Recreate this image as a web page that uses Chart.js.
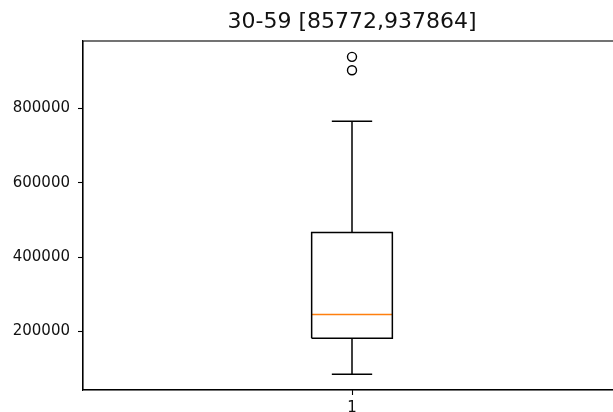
<!DOCTYPE html>
<html>
<head>
<meta charset="utf-8">
<script src="https://cdn.jsdelivr.net/npm/chart.js@4.4.1/dist/chart.umd.min.js"></script>
<style>
  html, body { margin: 0; padding: 0; background: #fff; overflow: hidden; }
  #wrap { width: 613px; height: 412px; overflow: hidden; }
</style>
</head>
<body>
<div id="wrap"><canvas id="myChart" width="640" height="412"></canvas></div>
<script>
// box stats for group "30-59"
const groupTitle = "30-59 [85772,937864]";
const position = 1;
const whiskerLow = 85772;
const q1 = 182000;
const median = 246000;
const q3 = 466000;
const whiskerHigh = 765000;
const outliers = [902000, 937864];
const yTicks = [200000, 400000, 600000, 800000];
const xTicks = [1];

const boxHalf = 0.075;
const capHalf = 0.0375;

// matplotlib-style limits: 5% margin around data
const dataMin = Math.min(whiskerLow, ...outliers);
const dataMax = Math.max(whiskerHigh, ...outliers);
const margin = (dataMax - dataMin) * 0.05;

const boxLine = [
  { x: position - boxHalf, y: q1 },
  { x: position + boxHalf, y: q1 },
  { x: position + boxHalf, y: q3 },
  { x: position - boxHalf, y: q3 },
  { x: position - boxHalf, y: q1 },
];

const whiskerLines = [
  { x: position, y: q1 }, { x: position, y: whiskerLow }, { x: NaN, y: null },
  { x: position - capHalf, y: whiskerLow }, { x: position + capHalf, y: whiskerLow }, { x: NaN, y: null },
  { x: position, y: q3 }, { x: position, y: whiskerHigh }, { x: NaN, y: null },
  { x: position - capHalf, y: whiskerHigh }, { x: position + capHalf, y: whiskerHigh },
];

const medianLine = [
  { x: position - boxHalf, y: median },
  { x: position + boxHalf, y: median },
];

const outlierPoints = outliers.map((v) => ({ x: position, y: v }));

const frame = {
  id: "frame",
  afterDraw(chart) {
    const { ctx, chartArea: a } = chart;
    ctx.save();
    ctx.strokeStyle = "#000";
    ctx.lineWidth = 1.1;
    ctx.strokeRect(a.left, a.top, a.right - a.left, a.bottom - a.top);
    ctx.restore();
  },
};

const lineDs = (data, color) => ({
  data: data,
  showLine: true,
  borderColor: color,
  borderWidth: 1.5,
  pointRadius: 0,
  fill: false,
  spanGaps: false,
});

new Chart(document.getElementById("myChart").getContext("2d"), {
  type: "scatter",
  data: {
    datasets: [
      lineDs(whiskerLines, "#000"),
      lineDs(boxLine, "#000"),
      lineDs(medianLine, "#ff7f0e"),
      {
        data: outlierPoints,
        pointStyle: "circle",
        pointRadius: 4.5,
        pointBorderWidth: 1.4,
        pointBorderColor: "#000",
        pointBackgroundColor: "rgba(0,0,0,0)",
        showLine: false,
      },
    ],
  },
  options: {
    responsive: false,
    animation: false,
    layout: { padding: { left: 0, right: 19, top: 0, bottom: 0 } },
    plugins: {
      legend: { display: false },
      tooltip: { enabled: false },
      title: {
        display: true,
        fullSize: false,
        text: groupTitle,
        color: "#111",
        font: { family: "DejaVu Sans", size: 22, weight: "normal", lineHeight: 26 / 22 },
        padding: { top: 9, bottom: 6 },
      },
    },
    scales: {
      x: {
        type: "linear",
        min: 0.5,
        max: 1.5,
        afterBuildTicks: (s) => { s.ticks = xTicks.map((v) => ({ value: v })); },
        afterFit: (s) => { s.height = 22; },
        ticks: {
          color: "#111",
          padding: 4,
          font: { family: "DejaVu Sans", size: 15 },
          callback: (v) => String(v),
        },
        grid: { drawOnChartArea: false, tickLength: 5, tickColor: "#000", tickWidth: 1.1 },
        border: { color: "#000", width: 1.1 },
      },
      y: {
        type: "linear",
        min: dataMin - margin,
        max: dataMax + margin,
        afterBuildTicks: (s) => { s.ticks = yTicks.map((v) => ({ value: v })); },
        afterFit: (s) => { s.width = 83; },
        ticks: {
          color: "#111",
          padding: 8,
          font: { family: "DejaVu Sans", size: 15 },
          callback: (v) => String(v),
        },
        grid: { drawOnChartArea: false, tickLength: 5, tickColor: "#000", tickWidth: 1.1 },
        border: { color: "#000", width: 1.1 },
      },
    },
  },
  plugins: [frame],
});
</script>
</body>
</html>
